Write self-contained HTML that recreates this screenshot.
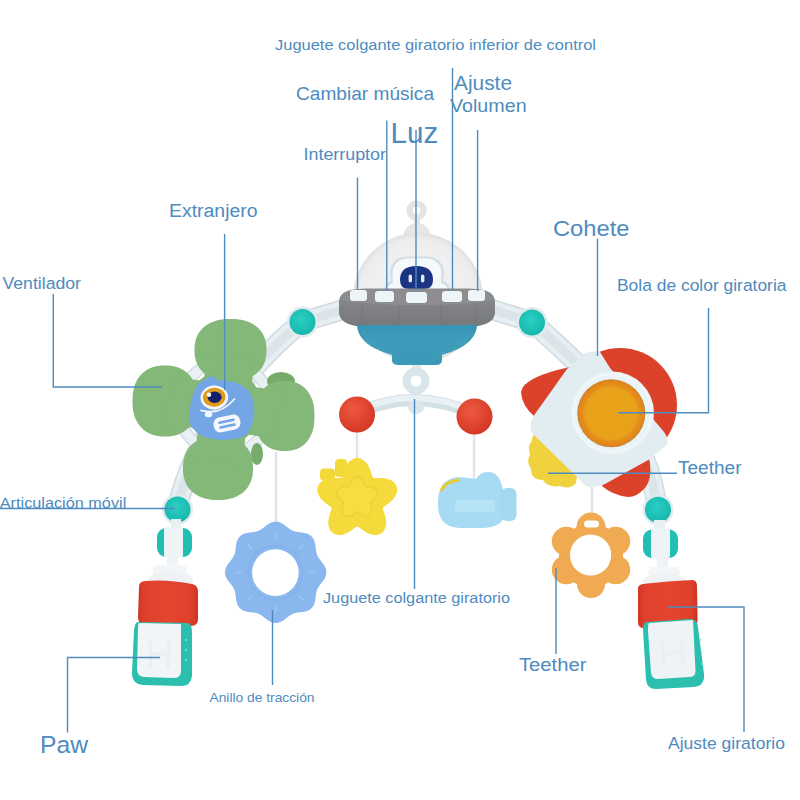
<!DOCTYPE html>
<html><head><meta charset="utf-8">
<style>
html,body{margin:0;padding:0;background:#fff;}
body{width:800px;height:800px;overflow:hidden;}
svg{display:block;}
text{font-family:"Liberation Sans",sans-serif;fill:#4e8bbe;}
</style></head><body>
<svg width="800" height="800" viewBox="0 0 800 800">
<defs>
<radialGradient id="redg" cx="40%" cy="35%" r="70%"><stop offset="0" stop-color="#ee5940"/><stop offset="1" stop-color="#d23524"/></radialGradient>
<radialGradient id="orag" cx="50%" cy="50%" r="50%"><stop offset="0" stop-color="#e9a31a"/><stop offset="0.75" stop-color="#e8a21a"/><stop offset="0.84" stop-color="#e58d1c"/><stop offset="0.95" stop-color="#e2871b"/><stop offset="1" stop-color="#b98232"/></radialGradient>
<radialGradient id="domeg" cx="50%" cy="50%" r="50%"><stop offset="0" stop-color="#ececec"/><stop offset="0.7" stop-color="#f0f0f0"/><stop offset="0.92" stop-color="#ececec"/><stop offset="1" stop-color="#e0e0e0"/></radialGradient>
<linearGradient id="bowlg" x1="0" y1="0" x2="0" y2="1"><stop offset="0" stop-color="#3794b5"/><stop offset="0.5" stop-color="#3f9cba"/><stop offset="1" stop-color="#3b97b5"/></linearGradient>
<linearGradient id="rimg" x1="0" y1="0" x2="0" y2="1"><stop offset="0" stop-color="#8c8d90"/><stop offset="0.5" stop-color="#808184"/><stop offset="1" stop-color="#77787b"/></linearGradient>
<radialGradient id="tealg" cx="45%" cy="40%" r="60%"><stop offset="0" stop-color="#2ccfc3"/><stop offset="1" stop-color="#17b7ac"/></radialGradient>
<linearGradient id="bandg" x1="0" y1="0" x2="1" y2="0"><stop offset="0" stop-color="#cf3524"/><stop offset="0.12" stop-color="#e0412d"/><stop offset="0.5" stop-color="#e5452f"/><stop offset="0.88" stop-color="#df402c"/><stop offset="1" stop-color="#cc3323"/></linearGradient>
</defs>

<!-- arch tubes -->
<g fill="none" stroke-linecap="round">
<path d="M177,509 C195,430 255,360 302,322" stroke="#cfdbe0" stroke-width="21"/><path d="M177,509 C195,430 255,360 302,322" stroke="#e7eff2" stroke-width="18"/><path d="M177,509 C195,430 255,360 302,322" stroke="#dbe5e9" stroke-width="9"/>
<path d="M302,322 L345,309" stroke="#cfdbe0" stroke-width="21"/><path d="M302,322 L345,309" stroke="#e7eff2" stroke-width="18"/><path d="M302,322 L345,309" stroke="#dbe5e9" stroke-width="9"/>
<path d="M490,309 L532,322" stroke="#cfdbe0" stroke-width="21"/><path d="M490,309 L532,322" stroke="#e7eff2" stroke-width="18"/><path d="M490,309 L532,322" stroke="#dbe5e9" stroke-width="9"/>
<path d="M532,322 C565,352 650,420 657,510" stroke="#cfdbe0" stroke-width="21"/><path d="M532,322 C565,352 650,420 657,510" stroke="#e7eff2" stroke-width="18"/><path d="M532,322 C565,352 650,420 657,510" stroke="#dbe5e9" stroke-width="9"/>
</g>

<!-- UFO dome -->
<g>
<circle cx="416.6" cy="210.5" r="7" fill="none" stroke="#e4e4e4" stroke-width="6.5"/>
<rect x="413.5" y="216" width="6.5" height="12" fill="#e4e4e4"/>
<path d="M403,238 Q404,224 417,223 Q430,224 431,238Z" fill="#e6e6e6"/>
<circle cx="418" cy="298" r="65" fill="url(#domeg)"/>
<!-- robot -->
<path d="M384,293 Q384,283 391,281 L390,273 Q391,257 408,256.5 L426,256.5 Q443,257 444,273 L443,281 Q450,283 450,293Z" fill="#d3dde4"/>
<path d="M386,293 Q386,285 393,283 L392.5,273 Q393,259 409,258.5 L425,258.5 Q441,259 441.5,273 L441,283 Q448,285 448,293Z" fill="#f6f9fb"/>
<path d="M400,280 Q400,266 416.5,266 Q433,266 433,280 Q433,289 424,289 L409,289 Q400,289 400,280Z" fill="#1b3583"/>
<rect x="408.6" y="274.4" width="3.4" height="8" rx="1.7" fill="#e3ebf5"/>
<rect x="421" y="274.4" width="3.4" height="8" rx="1.7" fill="#e3ebf5"/>
</g>
<!-- UFO rim -->
<path d="M339,302 Q339,289 362,289 L472,289 Q495,289 495,302 L495,313 Q494,326 468,327 L366,327 Q340,326 339,313Z" fill="url(#rimg)"/>
<path d="M341,300 Q345,289 366,288.5 L468,288.5 Q489,289 493,300 Q470,305 417,305 Q364,305 341,300Z" fill="#8d8d90"/>
<g stroke="#737477" stroke-width="1" opacity="0.6">
<line x1="362" y1="304" x2="362" y2="326"/><line x1="399" y1="305" x2="399" y2="327"/><line x1="441" y1="305" x2="441" y2="327"/><line x1="476" y1="304" x2="476" y2="325"/>
</g>
<g fill="#eef5f9">
<rect x="350" y="290" width="17" height="11" rx="3"/>
<rect x="375" y="291" width="19" height="11" rx="3"/>
<rect x="406" y="292" width="21" height="11" rx="3"/>
<rect x="442" y="291" width="20" height="11" rx="3"/>
<rect x="468" y="290" width="17" height="11" rx="3"/>
</g>
<!-- bowl -->
<path d="M357,325 A60,33 0 0,0 477,325Z" fill="url(#bowlg)"/>
<path d="M364,330 A53,26 0 0,0 470,330" fill="none" stroke="#4aa6c2" stroke-width="1" opacity="0.7"/>
<path d="M392,354 L442,354 L442,361 Q441,365 436,365 L398,365 Q393,365 392,361Z" fill="#3c99b8"/>
<rect x="412" y="365" width="9" height="6" rx="2" fill="#dbe7eb"/>

<!-- teal joints top -->
<circle cx="302.5" cy="322" r="15.5" fill="#e1eaee"/>
<circle cx="302.5" cy="322" r="13" fill="url(#tealg)"/>
<circle cx="532" cy="322.5" r="15.5" fill="#e1eaee"/>
<circle cx="532" cy="322.5" r="13" fill="url(#tealg)"/>

<!-- mobile hanger -->
<circle cx="416" cy="381" r="9.5" fill="none" stroke="#d9e5ea" stroke-width="8"/>
<path d="M357,413 Q416,386 475,415" fill="none" stroke="#d3e0e6" stroke-width="12"/>
<path d="M357,411 Q416,384 475,413" fill="none" stroke="#e9f1f4" stroke-width="6"/>
<ellipse cx="416" cy="407" rx="8" ry="7" fill="#dce7ec"/>
<g stroke="#dde6ea" stroke-width="2.5">
<line x1="357" y1="430" x2="357" y2="462"/>
<line x1="474" y1="432" x2="474" y2="482"/>
<line x1="276" y1="452" x2="276" y2="524"/>
<line x1="592" y1="484" x2="592" y2="522"/>
</g>
<circle cx="357" cy="414.5" r="18" fill="url(#redg)"/>
<circle cx="474.5" cy="416.5" r="18" fill="url(#redg)"/>

<!-- star -->
<rect x="335" y="459" width="12" height="18" rx="4" fill="#f2d838"/>
<rect x="320" y="468.5" width="15" height="12" rx="4" fill="#f2d838"/>
<path d="M392.9,499.5 L392.2,500.2 L391.5,500.9 L390.7,501.6 L390.0,502.2 L389.2,502.9 L388.4,503.4 L387.7,504.0 L386.9,504.5 L386.2,505.0 L385.5,505.5 L384.9,506.0 L384.3,506.4 L383.7,506.9 L383.3,507.4 L382.9,507.8 L382.9,508.4 L383.0,509.1 L383.2,509.8 L383.4,510.5 L383.7,511.3 L383.9,512.1 L384.2,512.9 L384.5,513.8 L384.8,514.6 L385.1,515.6 L385.3,516.5 L385.6,517.5 L385.8,518.4 L385.9,519.4 L386.1,520.4 L386.2,521.4 L386.2,522.4 L386.2,523.4 L386.1,524.4 L386.0,525.4 L385.8,526.3 L385.6,527.2 L385.3,528.1 L384.9,529.0 L384.5,529.8 L384.1,530.6 L383.5,531.3 L383.0,531.9 L382.3,532.5 L381.6,533.1 L380.9,533.6 L380.1,534.0 L379.3,534.3 L378.5,534.6 L377.6,534.8 L376.7,534.9 L375.8,535.0 L374.9,535.0 L373.9,535.0 L373.0,534.8 L372.0,534.7 L371.1,534.4 L370.1,534.1 L369.2,533.8 L368.3,533.4 L367.3,532.9 L366.5,532.5 L365.6,532.0 L364.7,531.5 L363.9,530.9 L363.1,530.4 L362.4,529.8 L361.6,529.3 L360.9,528.8 L360.3,528.3 L359.6,527.8 L359.0,527.3 L358.4,527.0 L357.8,526.7 L357.2,526.5 L356.7,526.7 L356.1,527.0 L355.5,527.3 L354.9,527.8 L354.2,528.3 L353.6,528.8 L352.9,529.3 L352.1,529.8 L351.4,530.4 L350.6,530.9 L349.8,531.5 L348.9,532.0 L348.0,532.5 L347.2,532.9 L346.2,533.4 L345.3,533.8 L344.4,534.1 L343.4,534.4 L342.5,534.7 L341.5,534.8 L340.6,535.0 L339.6,535.0 L338.7,535.0 L337.8,534.9 L336.9,534.8 L336.0,534.6 L335.2,534.3 L334.4,534.0 L333.6,533.6 L332.9,533.1 L332.2,532.5 L331.5,531.9 L331.0,531.3 L330.4,530.6 L330.0,529.8 L329.6,529.0 L329.2,528.1 L328.9,527.2 L328.7,526.3 L328.5,525.4 L328.4,524.4 L328.3,523.4 L328.3,522.4 L328.3,521.4 L328.4,520.4 L328.6,519.4 L328.7,518.4 L328.9,517.5 L329.2,516.5 L329.4,515.6 L329.7,514.6 L330.0,513.8 L330.3,512.9 L330.6,512.1 L330.8,511.3 L331.1,510.5 L331.3,509.8 L331.5,509.1 L331.6,508.4 L331.6,507.8 L331.2,507.4 L330.8,506.9 L330.2,506.4 L329.6,506.0 L329.0,505.5 L328.3,505.0 L327.6,504.5 L326.8,504.0 L326.1,503.4 L325.3,502.9 L324.5,502.2 L323.8,501.6 L323.0,500.9 L322.3,500.2 L321.6,499.5 L321.0,498.7 L320.3,498.0 L319.8,497.1 L319.2,496.3 L318.8,495.5 L318.4,494.6 L318.0,493.7 L317.7,492.8 L317.5,491.9 L317.4,491.0 L317.3,490.1 L317.3,489.2 L317.4,488.4 L317.5,487.5 L317.8,486.7 L318.1,485.9 L318.5,485.1 L318.9,484.3 L319.4,483.6 L320.0,482.9 L320.7,482.3 L321.4,481.7 L322.1,481.1 L322.9,480.6 L323.7,480.2 L324.6,479.7 L325.5,479.4 L326.5,479.1 L327.5,478.8 L328.4,478.6 L329.4,478.4 L330.4,478.2 L331.4,478.1 L332.4,478.0 L333.4,478.0 L334.3,478.0 L335.3,478.0 L336.2,478.0 L337.1,478.0 L337.9,478.0 L338.7,478.0 L339.5,478.0 L340.2,478.0 L340.8,477.9 L341.4,477.7 L341.7,477.2 L342.0,476.6 L342.3,475.9 L342.6,475.2 L342.8,474.5 L343.0,473.7 L343.3,472.8 L343.6,471.9 L343.9,471.1 L344.2,470.2 L344.5,469.2 L344.9,468.3 L345.3,467.4 L345.8,466.5 L346.2,465.6 L346.8,464.8 L347.3,463.9 L347.9,463.1 L348.5,462.4 L349.2,461.7 L349.9,461.0 L350.6,460.4 L351.4,459.9 L352.2,459.4 L353.0,459.0 L353.8,458.6 L354.7,458.3 L355.5,458.2 L356.4,458.0 L357.2,458.0 L358.1,458.0 L359.0,458.2 L359.8,458.3 L360.7,458.6 L361.5,459.0 L362.3,459.4 L363.1,459.9 L363.9,460.4 L364.6,461.0 L365.3,461.7 L366.0,462.4 L366.6,463.1 L367.2,463.9 L367.7,464.8 L368.3,465.6 L368.7,466.5 L369.2,467.4 L369.6,468.3 L370.0,469.2 L370.3,470.2 L370.6,471.1 L370.9,471.9 L371.2,472.8 L371.5,473.7 L371.7,474.5 L371.9,475.2 L372.2,475.9 L372.5,476.6 L372.8,477.2 L373.1,477.7 L373.7,477.9 L374.3,478.0 L375.0,478.0 L375.8,478.0 L376.6,478.0 L377.4,478.0 L378.3,478.0 L379.2,478.0 L380.2,478.0 L381.1,478.0 L382.1,478.0 L383.1,478.1 L384.1,478.2 L385.1,478.4 L386.1,478.6 L387.0,478.8 L388.0,479.1 L389.0,479.4 L389.9,479.7 L390.8,480.2 L391.6,480.6 L392.4,481.1 L393.1,481.7 L393.8,482.3 L394.5,482.9 L395.1,483.6 L395.6,484.3 L396.0,485.1 L396.4,485.9 L396.7,486.7 L397.0,487.5 L397.1,488.4 L397.2,489.2 L397.2,490.1 L397.1,491.0 L397.0,491.9 L396.8,492.8 L396.5,493.7 L396.1,494.6 L395.7,495.5 L395.3,496.3 L394.7,497.1 L394.2,498.0 L393.5,498.7Z" fill="#f4db3b"/>
<path d="M375.2,498.0 L374.9,498.4 L374.6,498.7 L374.2,499.1 L373.9,499.4 L373.6,499.7 L373.2,500.0 L372.9,500.3 L372.5,500.6 L372.2,500.9 L371.9,501.2 L371.6,501.4 L371.4,501.7 L371.1,501.9 L370.9,502.2 L370.8,502.5 L370.7,502.8 L370.8,503.1 L370.8,503.5 L370.9,503.8 L370.9,504.2 L371.0,504.6 L371.1,505.0 L371.2,505.4 L371.3,505.9 L371.4,506.3 L371.5,506.8 L371.6,507.3 L371.7,507.7 L371.7,508.2 L371.8,508.7 L371.8,509.2 L371.8,509.7 L371.7,510.2 L371.7,510.7 L371.6,511.2 L371.5,511.6 L371.4,512.1 L371.2,512.5 L371.0,512.9 L370.8,513.3 L370.6,513.7 L370.3,514.1 L370.0,514.4 L369.7,514.7 L369.3,515.0 L369.0,515.2 L368.6,515.4 L368.2,515.6 L367.8,515.8 L367.3,515.9 L366.9,516.0 L366.4,516.0 L365.9,516.0 L365.5,516.0 L365.0,516.0 L364.5,515.9 L364.0,515.8 L363.6,515.7 L363.1,515.5 L362.6,515.3 L362.2,515.2 L361.7,514.9 L361.3,514.7 L360.9,514.5 L360.5,514.3 L360.1,514.0 L359.7,513.8 L359.3,513.6 L358.9,513.4 L358.6,513.2 L358.3,513.0 L357.9,512.8 L357.6,512.7 L357.3,512.6 L357.0,512.5 L356.7,512.6 L356.4,512.7 L356.1,512.8 L355.7,513.0 L355.4,513.2 L355.1,513.4 L354.7,513.6 L354.3,513.8 L353.9,514.0 L353.5,514.3 L353.1,514.5 L352.7,514.7 L352.3,514.9 L351.8,515.2 L351.4,515.3 L350.9,515.5 L350.4,515.7 L350.0,515.8 L349.5,515.9 L349.0,516.0 L348.5,516.0 L348.1,516.0 L347.6,516.0 L347.1,516.0 L346.7,515.9 L346.2,515.8 L345.8,515.6 L345.4,515.4 L345.0,515.2 L344.7,515.0 L344.3,514.7 L344.0,514.4 L343.7,514.1 L343.4,513.7 L343.2,513.3 L343.0,512.9 L342.8,512.5 L342.6,512.1 L342.5,511.6 L342.4,511.2 L342.3,510.7 L342.3,510.2 L342.2,509.7 L342.2,509.2 L342.2,508.7 L342.3,508.2 L342.3,507.7 L342.4,507.3 L342.5,506.8 L342.6,506.3 L342.7,505.9 L342.8,505.4 L342.9,505.0 L343.0,504.6 L343.1,504.2 L343.1,503.8 L343.2,503.5 L343.2,503.1 L343.3,502.8 L343.2,502.5 L343.1,502.2 L342.9,501.9 L342.6,501.7 L342.4,501.4 L342.1,501.2 L341.8,500.9 L341.5,500.6 L341.1,500.3 L340.8,500.0 L340.4,499.7 L340.1,499.4 L339.8,499.1 L339.4,498.7 L339.1,498.4 L338.8,498.0 L338.5,497.6 L338.2,497.2 L337.9,496.8 L337.7,496.4 L337.4,495.9 L337.3,495.5 L337.1,495.1 L337.0,494.6 L336.9,494.2 L336.8,493.7 L336.8,493.3 L336.8,492.8 L336.8,492.4 L336.9,491.9 L337.0,491.5 L337.2,491.1 L337.4,490.7 L337.6,490.3 L337.8,489.9 L338.1,489.6 L338.5,489.3 L338.8,489.0 L339.2,488.7 L339.6,488.4 L340.0,488.2 L340.4,487.9 L340.8,487.7 L341.3,487.6 L341.8,487.4 L342.2,487.3 L342.7,487.2 L343.2,487.1 L343.7,487.0 L344.2,486.9 L344.6,486.9 L345.1,486.8 L345.5,486.8 L346.0,486.7 L346.4,486.7 L346.8,486.7 L347.2,486.6 L347.5,486.6 L347.9,486.5 L348.2,486.4 L348.5,486.3 L348.7,486.0 L348.9,485.8 L349.1,485.5 L349.2,485.1 L349.4,484.8 L349.5,484.4 L349.7,484.0 L349.9,483.6 L350.0,483.2 L350.2,482.8 L350.4,482.4 L350.6,481.9 L350.9,481.5 L351.1,481.1 L351.4,480.7 L351.6,480.2 L351.9,479.9 L352.2,479.5 L352.6,479.1 L352.9,478.8 L353.3,478.4 L353.6,478.2 L354.0,477.9 L354.4,477.7 L354.8,477.5 L355.3,477.3 L355.7,477.2 L356.1,477.1 L356.6,477.0 L357.0,477.0 L357.4,477.0 L357.9,477.1 L358.3,477.2 L358.7,477.3 L359.2,477.5 L359.6,477.7 L360.0,477.9 L360.4,478.2 L360.7,478.4 L361.1,478.8 L361.4,479.1 L361.8,479.5 L362.1,479.9 L362.4,480.2 L362.6,480.7 L362.9,481.1 L363.1,481.5 L363.4,481.9 L363.6,482.4 L363.8,482.8 L364.0,483.2 L364.1,483.6 L364.3,484.0 L364.5,484.4 L364.6,484.8 L364.8,485.1 L364.9,485.5 L365.1,485.8 L365.3,486.0 L365.5,486.3 L365.8,486.4 L366.1,486.5 L366.5,486.6 L366.8,486.6 L367.2,486.7 L367.6,486.7 L368.0,486.7 L368.5,486.8 L368.9,486.8 L369.4,486.9 L369.8,486.9 L370.3,487.0 L370.8,487.1 L371.3,487.2 L371.8,487.3 L372.2,487.4 L372.7,487.6 L373.2,487.7 L373.6,487.9 L374.0,488.2 L374.4,488.4 L374.8,488.7 L375.2,489.0 L375.5,489.3 L375.9,489.6 L376.2,489.9 L376.4,490.3 L376.6,490.7 L376.8,491.1 L377.0,491.5 L377.1,491.9 L377.2,492.4 L377.2,492.8 L377.2,493.3 L377.2,493.7 L377.1,494.2 L377.0,494.6 L376.9,495.1 L376.7,495.5 L376.6,495.9 L376.3,496.4 L376.1,496.8 L375.8,497.2 L375.5,497.6Z" fill="#f5dd42" stroke="#ead233" stroke-width="1.5"/>

<!-- airplane -->
<path d="M438,502 Q438,478 460,477 L476,479 Q480,471 490,472 Q499,473 502,486 L504,492 L504,517 Q500,528 482,528 L460,528 Q438,527 438,505Z" fill="#a7dbf3"/>
<rect x="501" y="488" width="15.5" height="33" rx="6" fill="#a3d8f1"/>
<path d="M456,500 L494,500 Q497,506 494,512 L456,512 Q453,506 456,500Z" fill="#b6e4f7"/>
<path d="M441,491 Q446,481 459,480" fill="none" stroke="#eacb2a" stroke-width="3"/>

<!-- fan -->
<circle cx="225" cy="408" r="46" fill="none" stroke="#d2dde2" stroke-width="12"/>
<circle cx="225" cy="408" r="46" fill="none" stroke="#e9f0f3" stroke-width="9"/>
<ellipse cx="281" cy="381" rx="14" ry="9" fill="#76ab6a"/>
<ellipse cx="257" cy="454" rx="6" ry="11" fill="#76ab6a"/>
<g fill="#84b878">
<path d="M266.5,350.0 L266.5,351.5 L266.4,352.8 L266.4,354.0 L266.3,355.1 L266.1,356.2 L265.9,357.2 L265.7,358.2 L265.5,359.2 L265.3,360.2 L265.0,361.2 L264.6,362.1 L264.3,363.0 L263.9,363.9 L263.5,364.8 L263.1,365.6 L262.6,366.4 L262.1,367.2 L261.6,368.0 L261.0,368.8 L260.4,369.5 L259.8,370.3 L259.2,371.0 L258.5,371.6 L257.8,372.3 L257.1,372.9 L256.4,373.5 L255.6,374.1 L254.8,374.7 L254.0,375.3 L253.2,375.8 L252.3,376.3 L251.4,376.8 L250.5,377.2 L249.6,377.6 L248.6,378.0 L247.6,378.4 L246.6,378.8 L245.6,379.1 L244.5,379.4 L243.5,379.7 L242.4,379.9 L241.2,380.2 L240.1,380.3 L238.9,380.5 L237.7,380.7 L236.4,380.8 L235.1,380.9 L233.7,380.9 L232.3,381.0 L230.5,381.0 L228.7,381.0 L227.3,380.9 L225.9,380.9 L224.6,380.8 L223.3,380.7 L222.1,380.5 L220.9,380.3 L219.8,380.2 L218.6,379.9 L217.5,379.7 L216.5,379.4 L215.4,379.1 L214.4,378.8 L213.4,378.4 L212.4,378.0 L211.4,377.6 L210.5,377.2 L209.6,376.8 L208.7,376.3 L207.8,375.8 L207.0,375.3 L206.2,374.7 L205.4,374.1 L204.6,373.5 L203.9,372.9 L203.2,372.3 L202.5,371.6 L201.8,371.0 L201.2,370.3 L200.6,369.5 L200.0,368.8 L199.4,368.0 L198.9,367.2 L198.4,366.4 L197.9,365.6 L197.5,364.8 L197.1,363.9 L196.7,363.0 L196.4,362.1 L196.0,361.2 L195.7,360.2 L195.5,359.2 L195.3,358.2 L195.1,357.2 L194.9,356.2 L194.7,355.1 L194.6,354.0 L194.6,352.8 L194.5,351.5 L194.5,350.0 L194.5,348.5 L194.6,347.2 L194.6,346.0 L194.7,344.9 L194.9,343.8 L195.1,342.8 L195.3,341.8 L195.5,340.8 L195.7,339.8 L196.0,338.8 L196.4,337.9 L196.7,337.0 L197.1,336.1 L197.5,335.2 L197.9,334.4 L198.4,333.6 L198.9,332.8 L199.4,332.0 L200.0,331.2 L200.6,330.5 L201.2,329.7 L201.8,329.0 L202.5,328.4 L203.2,327.7 L203.9,327.1 L204.6,326.5 L205.4,325.9 L206.2,325.3 L207.0,324.7 L207.8,324.2 L208.7,323.7 L209.6,323.2 L210.5,322.8 L211.4,322.4 L212.4,322.0 L213.4,321.6 L214.4,321.2 L215.4,320.9 L216.5,320.6 L217.5,320.3 L218.6,320.1 L219.8,319.8 L220.9,319.7 L222.1,319.5 L223.3,319.3 L224.6,319.2 L225.9,319.1 L227.3,319.1 L228.7,319.0 L230.5,319.0 L232.3,319.0 L233.7,319.1 L235.1,319.1 L236.4,319.2 L237.7,319.3 L238.9,319.5 L240.1,319.7 L241.2,319.8 L242.4,320.1 L243.5,320.3 L244.5,320.6 L245.6,320.9 L246.6,321.2 L247.6,321.6 L248.6,322.0 L249.6,322.4 L250.5,322.8 L251.4,323.2 L252.3,323.7 L253.2,324.2 L254.0,324.7 L254.8,325.3 L255.6,325.9 L256.4,326.5 L257.1,327.1 L257.8,327.7 L258.5,328.4 L259.2,329.0 L259.8,329.7 L260.4,330.5 L261.0,331.2 L261.6,332.0 L262.1,332.8 L262.6,333.6 L263.1,334.4 L263.5,335.2 L263.9,336.1 L264.3,337.0 L264.6,337.9 L265.0,338.8 L265.3,339.8 L265.5,340.8 L265.7,341.8 L265.9,342.8 L266.1,343.8 L266.3,344.9 L266.4,346.0 L266.4,347.2 L266.5,348.5Z"/>
<path d="M197.5,401.0 L197.5,402.8 L197.4,404.2 L197.4,405.5 L197.3,406.8 L197.2,408.1 L197.0,409.3 L196.8,410.4 L196.6,411.6 L196.4,412.7 L196.1,413.8 L195.8,414.8 L195.5,415.9 L195.2,416.9 L194.8,417.9 L194.4,418.9 L194.0,419.8 L193.5,420.7 L193.1,421.6 L192.6,422.5 L192.0,423.4 L191.5,424.2 L190.9,425.0 L190.3,425.8 L189.7,426.5 L189.0,427.3 L188.4,428.0 L187.7,428.6 L187.0,429.3 L186.2,429.9 L185.5,430.5 L184.7,431.1 L183.9,431.6 L183.1,432.2 L182.2,432.6 L181.4,433.1 L180.5,433.5 L179.6,433.9 L178.6,434.3 L177.7,434.7 L176.7,435.0 L175.7,435.3 L174.7,435.5 L173.6,435.8 L172.6,436.0 L171.5,436.1 L170.3,436.3 L169.2,436.4 L167.9,436.4 L166.6,436.5 L165.0,436.5 L163.4,436.5 L162.1,436.4 L160.8,436.4 L159.7,436.3 L158.5,436.1 L157.4,436.0 L156.4,435.8 L155.3,435.5 L154.3,435.3 L153.3,435.0 L152.3,434.7 L151.4,434.3 L150.4,433.9 L149.5,433.5 L148.6,433.1 L147.8,432.6 L146.9,432.2 L146.1,431.6 L145.3,431.1 L144.5,430.5 L143.8,429.9 L143.0,429.3 L142.3,428.6 L141.6,428.0 L141.0,427.3 L140.3,426.5 L139.7,425.8 L139.1,425.0 L138.5,424.2 L138.0,423.4 L137.4,422.5 L136.9,421.6 L136.5,420.7 L136.0,419.8 L135.6,418.9 L135.2,417.9 L134.8,416.9 L134.5,415.9 L134.2,414.8 L133.9,413.8 L133.6,412.7 L133.4,411.6 L133.2,410.4 L133.0,409.3 L132.8,408.1 L132.7,406.8 L132.6,405.5 L132.6,404.2 L132.5,402.8 L132.5,401.0 L132.5,399.2 L132.6,397.8 L132.6,396.5 L132.7,395.2 L132.8,393.9 L133.0,392.7 L133.2,391.6 L133.4,390.4 L133.6,389.3 L133.9,388.2 L134.2,387.2 L134.5,386.1 L134.8,385.1 L135.2,384.1 L135.6,383.1 L136.0,382.2 L136.5,381.3 L136.9,380.4 L137.4,379.5 L138.0,378.6 L138.5,377.8 L139.1,377.0 L139.7,376.2 L140.3,375.5 L141.0,374.7 L141.6,374.0 L142.3,373.4 L143.0,372.7 L143.8,372.1 L144.5,371.5 L145.3,370.9 L146.1,370.4 L146.9,369.8 L147.8,369.4 L148.6,368.9 L149.5,368.5 L150.4,368.1 L151.4,367.7 L152.3,367.3 L153.3,367.0 L154.3,366.7 L155.3,366.5 L156.4,366.2 L157.4,366.0 L158.5,365.9 L159.7,365.7 L160.8,365.6 L162.1,365.6 L163.4,365.5 L165.0,365.5 L166.6,365.5 L167.9,365.6 L169.2,365.6 L170.3,365.7 L171.5,365.9 L172.6,366.0 L173.6,366.2 L174.7,366.5 L175.7,366.7 L176.7,367.0 L177.7,367.3 L178.6,367.7 L179.6,368.1 L180.5,368.5 L181.4,368.9 L182.2,369.4 L183.1,369.8 L183.9,370.4 L184.7,370.9 L185.5,371.5 L186.2,372.1 L187.0,372.7 L187.7,373.4 L188.4,374.0 L189.0,374.7 L189.7,375.5 L190.3,376.2 L190.9,377.0 L191.5,377.8 L192.0,378.6 L192.6,379.5 L193.1,380.4 L193.5,381.3 L194.0,382.2 L194.4,383.1 L194.8,384.1 L195.2,385.1 L195.5,386.1 L195.8,387.2 L196.1,388.2 L196.4,389.3 L196.6,390.4 L196.8,391.6 L197.0,392.7 L197.2,393.9 L197.3,395.2 L197.4,396.5 L197.4,397.8 L197.5,399.2Z"/>
<path d="M314.5,416.0 L314.5,417.7 L314.4,419.2 L314.4,420.5 L314.3,421.8 L314.2,423.0 L314.0,424.2 L313.9,425.3 L313.7,426.4 L313.5,427.5 L313.2,428.6 L313.0,429.7 L312.7,430.7 L312.3,431.7 L312.0,432.7 L311.6,433.6 L311.2,434.5 L310.8,435.5 L310.4,436.3 L309.9,437.2 L309.5,438.0 L308.9,438.9 L308.4,439.7 L307.9,440.4 L307.3,441.2 L306.7,441.9 L306.1,442.6 L305.4,443.3 L304.8,443.9 L304.1,444.5 L303.4,445.1 L302.7,445.7 L301.9,446.2 L301.2,446.7 L300.4,447.2 L299.6,447.7 L298.8,448.1 L297.9,448.5 L297.1,448.9 L296.2,449.2 L295.3,449.5 L294.4,449.8 L293.4,450.0 L292.5,450.3 L291.5,450.5 L290.5,450.6 L289.4,450.8 L288.3,450.9 L287.2,450.9 L286.0,451.0 L284.5,451.0 L283.0,451.0 L281.8,450.9 L280.7,450.9 L279.6,450.8 L278.5,450.6 L277.5,450.5 L276.5,450.3 L275.6,450.0 L274.6,449.8 L273.7,449.5 L272.8,449.2 L271.9,448.9 L271.1,448.5 L270.2,448.1 L269.4,447.7 L268.6,447.2 L267.8,446.7 L267.1,446.2 L266.3,445.7 L265.6,445.1 L264.9,444.5 L264.2,443.9 L263.6,443.3 L262.9,442.6 L262.3,441.9 L261.7,441.2 L261.1,440.4 L260.6,439.7 L260.1,438.9 L259.5,438.0 L259.1,437.2 L258.6,436.3 L258.2,435.5 L257.8,434.5 L257.4,433.6 L257.0,432.7 L256.7,431.7 L256.3,430.7 L256.0,429.7 L255.8,428.6 L255.5,427.5 L255.3,426.4 L255.1,425.3 L255.0,424.2 L254.8,423.0 L254.7,421.8 L254.6,420.5 L254.6,419.2 L254.5,417.7 L254.5,416.0 L254.5,414.3 L254.6,412.8 L254.6,411.5 L254.7,410.2 L254.8,409.0 L255.0,407.8 L255.1,406.7 L255.3,405.6 L255.5,404.5 L255.8,403.4 L256.0,402.3 L256.3,401.3 L256.7,400.3 L257.0,399.3 L257.4,398.4 L257.8,397.5 L258.2,396.5 L258.6,395.7 L259.1,394.8 L259.5,394.0 L260.1,393.1 L260.6,392.3 L261.1,391.6 L261.7,390.8 L262.3,390.1 L262.9,389.4 L263.6,388.7 L264.2,388.1 L264.9,387.5 L265.6,386.9 L266.3,386.3 L267.1,385.8 L267.8,385.3 L268.6,384.8 L269.4,384.3 L270.2,383.9 L271.1,383.5 L271.9,383.1 L272.8,382.8 L273.7,382.5 L274.6,382.2 L275.6,382.0 L276.5,381.7 L277.5,381.5 L278.5,381.4 L279.6,381.2 L280.7,381.1 L281.8,381.1 L283.0,381.0 L284.5,381.0 L286.0,381.0 L287.2,381.1 L288.3,381.1 L289.4,381.2 L290.5,381.4 L291.5,381.5 L292.5,381.7 L293.4,382.0 L294.4,382.2 L295.3,382.5 L296.2,382.8 L297.1,383.1 L297.9,383.5 L298.8,383.9 L299.6,384.3 L300.4,384.8 L301.2,385.3 L301.9,385.8 L302.7,386.3 L303.4,386.9 L304.1,387.5 L304.8,388.1 L305.4,388.7 L306.1,389.4 L306.7,390.1 L307.3,390.8 L307.9,391.6 L308.4,392.3 L308.9,393.1 L309.5,394.0 L309.9,394.8 L310.4,395.7 L310.8,396.5 L311.2,397.5 L311.6,398.4 L312.0,399.3 L312.3,400.3 L312.7,401.3 L313.0,402.3 L313.2,403.4 L313.5,404.5 L313.7,405.6 L313.9,406.7 L314.0,407.8 L314.2,409.0 L314.3,410.2 L314.4,411.5 L314.4,412.8 L314.5,414.3Z"/>
<path d="M253.0,468.0 L253.0,469.6 L252.9,470.9 L252.9,472.1 L252.8,473.3 L252.6,474.4 L252.5,475.5 L252.3,476.5 L252.0,477.5 L251.8,478.5 L251.5,479.5 L251.2,480.5 L250.9,481.4 L250.5,482.3 L250.1,483.2 L249.7,484.1 L249.2,485.0 L248.7,485.8 L248.2,486.6 L247.7,487.4 L247.1,488.2 L246.5,488.9 L245.9,489.6 L245.3,490.3 L244.6,491.0 L243.9,491.7 L243.2,492.3 L242.4,492.9 L241.7,493.5 L240.9,494.1 L240.0,494.6 L239.2,495.1 L238.3,495.6 L237.5,496.1 L236.5,496.5 L235.6,496.9 L234.7,497.3 L233.7,497.7 L232.7,498.0 L231.7,498.3 L230.6,498.6 L229.5,498.9 L228.4,499.1 L227.3,499.3 L226.2,499.5 L225.0,499.7 L223.8,499.8 L222.5,499.9 L221.2,499.9 L219.7,500.0 L218.0,500.0 L216.3,500.0 L214.8,499.9 L213.5,499.9 L212.2,499.8 L211.0,499.7 L209.8,499.5 L208.7,499.3 L207.6,499.1 L206.5,498.9 L205.4,498.6 L204.3,498.3 L203.3,498.0 L202.3,497.7 L201.3,497.3 L200.4,496.9 L199.5,496.5 L198.5,496.1 L197.7,495.6 L196.8,495.1 L196.0,494.6 L195.1,494.1 L194.3,493.5 L193.6,492.9 L192.8,492.3 L192.1,491.7 L191.4,491.0 L190.7,490.3 L190.1,489.6 L189.5,488.9 L188.9,488.2 L188.3,487.4 L187.8,486.6 L187.3,485.8 L186.8,485.0 L186.3,484.1 L185.9,483.2 L185.5,482.3 L185.1,481.4 L184.8,480.5 L184.5,479.5 L184.2,478.5 L184.0,477.5 L183.7,476.5 L183.5,475.5 L183.4,474.4 L183.2,473.3 L183.1,472.1 L183.1,470.9 L183.0,469.6 L183.0,468.0 L183.0,466.4 L183.1,465.1 L183.1,463.9 L183.2,462.7 L183.4,461.6 L183.5,460.5 L183.7,459.5 L184.0,458.5 L184.2,457.5 L184.5,456.5 L184.8,455.5 L185.1,454.6 L185.5,453.7 L185.9,452.8 L186.3,451.9 L186.8,451.0 L187.3,450.2 L187.8,449.4 L188.3,448.6 L188.9,447.8 L189.5,447.1 L190.1,446.4 L190.7,445.7 L191.4,445.0 L192.1,444.3 L192.8,443.7 L193.6,443.1 L194.3,442.5 L195.1,441.9 L196.0,441.4 L196.8,440.9 L197.7,440.4 L198.5,439.9 L199.5,439.5 L200.4,439.1 L201.3,438.7 L202.3,438.3 L203.3,438.0 L204.3,437.7 L205.4,437.4 L206.5,437.1 L207.6,436.9 L208.7,436.7 L209.8,436.5 L211.0,436.3 L212.2,436.2 L213.5,436.1 L214.8,436.1 L216.3,436.0 L218.0,436.0 L219.7,436.0 L221.2,436.1 L222.5,436.1 L223.8,436.2 L225.0,436.3 L226.2,436.5 L227.3,436.7 L228.4,436.9 L229.5,437.1 L230.6,437.4 L231.7,437.7 L232.7,438.0 L233.7,438.3 L234.7,438.7 L235.6,439.1 L236.5,439.5 L237.5,439.9 L238.3,440.4 L239.2,440.9 L240.0,441.4 L240.9,441.9 L241.7,442.5 L242.4,443.1 L243.2,443.7 L243.9,444.3 L244.6,445.0 L245.3,445.7 L245.9,446.4 L246.5,447.1 L247.1,447.8 L247.7,448.6 L248.2,449.4 L248.7,450.2 L249.2,451.0 L249.7,451.9 L250.1,452.8 L250.5,453.7 L250.9,454.6 L251.2,455.5 L251.5,456.5 L251.8,457.5 L252.0,458.5 L252.3,459.5 L252.5,460.5 L252.6,461.6 L252.8,462.7 L252.9,463.9 L252.9,465.1 L253.0,466.4Z"/>
<circle cx="225" cy="407" r="37"/>
</g>
<g stroke="#84b878" stroke-width="48">
<line x1="225" y1="407" x2="231" y2="355"/>
<line x1="225" y1="407" x2="168" y2="401"/>
<line x1="225" y1="407" x2="279" y2="415"/>
<line x1="225" y1="407" x2="218" y2="463"/>
</g>
<!-- alien -->
<path d="M211,375.5 Q214,377 217,380 Q234,380 243,386 Q251,391 253,400 Q256,412 252.5,423 Q249,435 241,437.5 Q228,441 216,439.5 Q204,438 199,434 Q190,428 189.5,420 Q189,404 194,392 Q197,384 202,381 Q207,379 211,375.5Z" fill="#74a5e5"/>
<ellipse cx="214.3" cy="397.5" rx="13.8" ry="12" fill="#f6f8fb" transform="rotate(-5 214.3 397.5)"/>
<ellipse cx="214.2" cy="397.2" rx="11.3" ry="9.5" fill="#e09a1c" transform="rotate(-5 214.3 397.5)"/>
<ellipse cx="214.6" cy="397.2" rx="7" ry="5.7" fill="#13206a"/>
<circle cx="208.9" cy="394.8" r="2.3" fill="#f6f8fb"/>
<path d="M201,410.3 Q220,416 234.5,399" fill="none" stroke="#f4f7fb" stroke-width="1.8" stroke-linecap="round"/>
<ellipse cx="208.5" cy="414.5" rx="3.8" ry="2.8" fill="#f4f7fb"/>
<g transform="rotate(-12 227 423.5)">
<rect x="213.5" y="416" width="27" height="15" rx="6.5" fill="#f4f7fb"/>
<rect x="218.5" y="420" width="17" height="2.5" rx="1.2" fill="#74a5e5"/>
<rect x="218.5" y="424.8" width="17" height="2.5" rx="1.2" fill="#74a5e5"/>
</g>

<!-- blue flower -->
<path d="M326.4,572.3 L326.3,573.6 L326.1,574.9 L325.7,576.2 L325.2,577.5 L324.5,578.7 L323.8,579.9 L323.0,581.1 L322.2,582.2 L321.3,583.2 L320.5,584.3 L319.7,585.3 L318.9,586.3 L318.3,587.4 L317.7,588.4 L317.2,589.5 L316.8,590.6 L316.5,591.7 L316.2,592.9 L316.0,594.2 L315.8,595.5 L315.7,596.8 L315.5,598.2 L315.3,599.5 L315.1,600.9 L314.8,602.3 L314.4,603.6 L313.8,604.9 L313.2,606.1 L312.4,607.2 L311.6,608.2 L310.6,609.0 L309.5,609.8 L308.3,610.4 L307.0,611.0 L305.7,611.4 L304.3,611.7 L302.9,611.9 L301.6,612.1 L300.2,612.3 L298.9,612.4 L297.6,612.6 L296.3,612.8 L295.1,613.1 L294.0,613.4 L292.9,613.8 L291.8,614.3 L290.8,614.9 L289.7,615.5 L288.7,616.3 L287.7,617.1 L286.6,617.9 L285.6,618.8 L284.5,619.6 L283.3,620.4 L282.1,621.1 L280.9,621.8 L279.6,622.3 L278.3,622.7 L277.0,622.9 L275.7,623.0 L274.4,622.9 L273.1,622.7 L271.8,622.3 L270.5,621.8 L269.3,621.1 L268.1,620.4 L266.9,619.6 L265.8,618.8 L264.8,617.9 L263.7,617.1 L262.7,616.3 L261.7,615.5 L260.6,614.9 L259.6,614.3 L258.5,613.8 L257.4,613.4 L256.3,613.1 L255.1,612.8 L253.8,612.6 L252.5,612.4 L251.2,612.3 L249.8,612.1 L248.5,611.9 L247.1,611.7 L245.7,611.4 L244.4,611.0 L243.1,610.4 L241.9,609.8 L240.8,609.0 L239.8,608.2 L239.0,607.2 L238.2,606.1 L237.6,604.9 L237.0,603.6 L236.6,602.3 L236.3,600.9 L236.1,599.5 L235.9,598.2 L235.7,596.8 L235.6,595.5 L235.4,594.2 L235.2,592.9 L234.9,591.7 L234.6,590.6 L234.2,589.5 L233.7,588.4 L233.1,587.4 L232.5,586.3 L231.7,585.3 L230.9,584.3 L230.1,583.2 L229.2,582.2 L228.4,581.1 L227.6,579.9 L226.9,578.7 L226.2,577.5 L225.7,576.2 L225.3,574.9 L225.1,573.6 L225.0,572.3 L225.1,571.0 L225.3,569.7 L225.7,568.4 L226.2,567.1 L226.9,565.9 L227.6,564.7 L228.4,563.5 L229.2,562.4 L230.1,561.4 L230.9,560.3 L231.7,559.3 L232.5,558.3 L233.1,557.2 L233.7,556.2 L234.2,555.1 L234.6,554.0 L234.9,552.9 L235.2,551.7 L235.4,550.4 L235.6,549.1 L235.7,547.8 L235.9,546.4 L236.1,545.1 L236.3,543.7 L236.6,542.3 L237.0,541.0 L237.6,539.7 L238.2,538.5 L239.0,537.4 L239.8,536.4 L240.8,535.6 L241.9,534.8 L243.1,534.2 L244.4,533.6 L245.7,533.2 L247.1,532.9 L248.5,532.7 L249.8,532.5 L251.2,532.3 L252.5,532.2 L253.8,532.0 L255.1,531.8 L256.3,531.5 L257.4,531.2 L258.5,530.8 L259.6,530.3 L260.6,529.7 L261.7,529.1 L262.7,528.3 L263.7,527.5 L264.8,526.7 L265.8,525.8 L266.9,525.0 L268.1,524.2 L269.3,523.5 L270.5,522.8 L271.8,522.3 L273.1,521.9 L274.4,521.7 L275.7,521.6 L277.0,521.7 L278.3,521.9 L279.6,522.3 L280.9,522.8 L282.1,523.5 L283.3,524.2 L284.5,525.0 L285.6,525.8 L286.6,526.7 L287.7,527.5 L288.7,528.3 L289.7,529.1 L290.8,529.7 L291.8,530.3 L292.9,530.8 L294.0,531.2 L295.1,531.5 L296.3,531.8 L297.6,532.0 L298.9,532.2 L300.2,532.3 L301.6,532.5 L302.9,532.7 L304.3,532.9 L305.7,533.2 L307.0,533.6 L308.3,534.2 L309.5,534.8 L310.6,535.6 L311.6,536.4 L312.4,537.4 L313.2,538.5 L313.8,539.7 L314.4,541.0 L314.8,542.3 L315.1,543.7 L315.3,545.1 L315.5,546.4 L315.7,547.8 L315.8,549.1 L316.0,550.4 L316.2,551.7 L316.5,552.9 L316.8,554.0 L317.2,555.1 L317.7,556.2 L318.3,557.2 L318.9,558.3 L319.7,559.3 L320.5,560.3 L321.3,561.4 L322.2,562.4 L323.0,563.5 L323.8,564.7 L324.5,565.9 L325.2,567.1 L325.7,568.4 L326.1,569.7 L326.3,571.0Z" fill="#8ab7ee"/>
<circle cx="275.4" cy="572.6" r="27" fill="none" stroke="#82afe6" stroke-width="1.2"/>
<g stroke="#9cc4f2" stroke-width="2.2" stroke-linecap="round">
<line x1="275.5" y1="533" x2="275.5" y2="538"/><line x1="275.5" y1="607" x2="275.5" y2="612"/>
<line x1="236" y1="572.5" x2="241" y2="572.5"/><line x1="310" y1="572.5" x2="315" y2="572.5"/>
<line x1="248" y1="545" x2="251.5" y2="548.5"/><line x1="299.5" y1="596.5" x2="303" y2="600"/>
<line x1="303" y1="545" x2="299.5" y2="548.5"/><line x1="251.5" y1="596.5" x2="248" y2="600"/>
</g>
<circle cx="275.4" cy="572.6" r="23.3" fill="#ffffff"/>

<!-- rocket -->
<path d="M521,392 Q523,377 570,367 L585,385 L548,425 L534,416 Q522,406 521,392Z" fill="#dc4129"/>
<circle cx="620" cy="405" r="57" fill="#dc4129"/>
<path d="M602,486 L610,470 L640,450 L649,458 Q653,478 645,488 Q637,497 628,497 Q612,495 602,486Z" fill="#dc4129"/>
<path d="M546,431 Q532,430 532,441 Q527,446 530,454 Q526,462 531,469 Q531,480 543,480 Q548,488 560,486 Q570,490 576,483 L578,470Z" fill="#f0d13e"/>
<path d="M567,369 L584,354 Q591,350 600,352 L610,368 L664,432 Q670,440 666,446 L650,459 L605,484 Q595,489 586,486 L533,434 Q527,426 535,414Z" fill="#e2edf2"/>
<circle cx="612.5" cy="413" r="41.5" fill="#eaf3f6"/>
<circle cx="612.5" cy="413" r="39" fill="none" stroke="#f3f8fa" stroke-width="1.5"/>
<circle cx="611.3" cy="413.3" r="34" fill="url(#orag)"/>

<!-- orange flower -->
<g fill="#f0aa52">
<circle cx="591" cy="555.5" r="32"/>
<circle cx="591" cy="527" r="14.5"/>
<circle cx="591" cy="584" r="14"/>
<circle cx="566.3" cy="541.2" r="14.5"/>
<circle cx="615.7" cy="541.2" r="14.5"/>
<circle cx="566.3" cy="569.8" r="14.5"/>
<circle cx="615.7" cy="569.8" r="14.5"/>
</g>
<circle cx="590.6" cy="555" r="20.6" fill="#fff"/>
<rect x="584" y="520.5" width="15" height="7" rx="3.5" fill="#fff"/>

<!-- left leg -->
<g>
<circle cx="177.5" cy="509.4" r="15.5" fill="#e1eaee"/>
<circle cx="177.5" cy="509.4" r="13" fill="url(#tealg)"/>
<rect x="171" y="519" width="10" height="12" fill="#e9f0f2"/>
<rect x="157" y="528" width="35" height="29" rx="9" fill="#22beb1"/>
<rect x="164" y="527.5" width="19" height="30" rx="2" fill="#eef4f6"/>
<rect x="167" y="552" width="11" height="18" fill="#eef3f5"/>
<rect x="153" y="565" width="34" height="11" rx="5" fill="#f3f6f8"/>
<path d="M148,580 Q149,572 170,571 Q192,572 193,580 L193,592 L148,592Z" fill="#eef2f4"/>
<path d="M139,588 Q138,582 145,581 Q168,579 192,584 Q198,585 198,592 L198,619 Q198,626 191,626 Q166,625 144,624 Q138,624 138,617Z" fill="url(#bandg)"/>
<path d="M138,622 L188,623 Q192,624 192,632 L192,676 Q191,686 181,686 L143,685 Q132,684 132,673 L134,630 Q135,622 138,622Z" fill="#2cbfae"/>
<path d="M139,623 L181,624 L181,672 Q180,678 174,678 L144,677 Q137,676 137,669 L138,630 Q138,623 139,623Z" fill="#f1f5f7"/>
<path d="M150,640 L151,668 M169,640 L168,668 M151,654 L168,654" stroke="#e9eff2" stroke-width="3.5" fill="none"/>
<g fill="#8fe0d6"><circle cx="186" cy="640" r="1"/><circle cx="186" cy="650" r="1"/><circle cx="186" cy="660" r="1"/></g>
</g>
<!-- right leg -->
<g>
<circle cx="658" cy="509.7" r="15.5" fill="#e1eaee"/>
<circle cx="658" cy="509.7" r="13" fill="url(#tealg)"/>
<rect x="654" y="520" width="11" height="12" fill="#e9f0f2"/>
<rect x="643" y="529.5" width="35" height="28.5" rx="9" fill="#22beb1"/>
<rect x="651" y="529" width="19" height="29" rx="2" fill="#eef4f6"/>
<rect x="657" y="554" width="11" height="16" fill="#eef3f5"/>
<rect x="648" y="567" width="32" height="11" rx="5" fill="#f3f6f8"/>
<path d="M643,582 Q644,574 665,573.5 Q685,574 686,582 L686,594 L643,594Z" fill="#eef2f4"/>
<path d="M638,590 Q637,585 643,584 Q668,581 692,580 Q697,580 697,586 L697.6,620 Q697.5,626 691,626 Q668,627 644,628 Q638,628 638,622Z" fill="url(#bandg)"/>
<path d="M647,622 L690,619 Q697,619 698,627 L704,674 Q705,686 694,687 L656,689 Q647,689 646,680 L643,630 Q643,622 647,622Z" fill="#2cbfae"/>
<path d="M649,623 L693,620 L695.5,671 Q695.5,677 689,677 L658,679 Q652,679 651,673 L648,631 Q648,623 649,623Z" fill="#eef3f6"/>
<path d="M662,640 L664,668 M681,638 L683,666 M663,654 L682,652" stroke="#e9eff2" stroke-width="3.5" fill="none"/>
<g fill="#8fe0d6"><circle cx="700.5" cy="640" r="0.9"/><circle cx="701.5" cy="652" r="0.9"/><circle cx="702" cy="664" r="0.9"/></g>
</g>

<!-- label lines -->
<g fill="none" stroke="#4e8bbe" stroke-width="1.4">
<polyline points="357.5,177.5 357.5,289"/>
<polyline points="386.8,120.5 386.8,291"/>
<polyline points="416,130 416,291"/>
<polyline points="452.5,68 452.5,290"/>
<polyline points="477.6,130 477.6,291"/>
<polyline points="224.6,234 224.6,390"/>
<polyline points="53.3,294 53.3,387 162,387"/>
<polyline points="597.5,238.5 597.5,356"/>
<polyline points="708.5,308 708.5,412.8 618,412.8"/>
<polyline points="548,473.3 677,473.3"/>
<polyline points="0,508.5 175,508.5"/>
<polyline points="414.5,399 414.5,589"/>
<polyline points="556,568 556,654"/>
<polyline points="272.5,610 272.5,685"/>
<polyline points="67.5,732.5 67.5,657.5 160,657.5"/>
<polyline points="668,607 744,607 744,732"/>
</g>
<!-- labels -->
<text x="275" y="50.2" font-size="15.41" textLength="321.0" lengthAdjust="spacingAndGlyphs">Juguete colgante giratorio inferior de control</text>
<text x="296.0" y="99.7" font-size="19.04" textLength="138.0" lengthAdjust="spacingAndGlyphs">Cambiar música</text>
<text x="454.0" y="89.7" font-size="19.62" textLength="58.0" lengthAdjust="spacingAndGlyphs">Ajuste</text>
<text x="450.0" y="111.6" font-size="18.75" textLength="76.6" lengthAdjust="spacingAndGlyphs">Volumen</text>
<text x="390.5" y="142.7" font-size="30.09" textLength="47.8" lengthAdjust="spacingAndGlyphs">Luz</text>
<text x="303.5" y="160" font-size="16.35" textLength="82.5" lengthAdjust="spacingAndGlyphs">Interruptor</text>
<text x="169.0" y="217.2" font-size="19.19" textLength="88.6" lengthAdjust="spacingAndGlyphs">Extranjero</text>
<text x="553.0" y="235.65" font-size="22.89" textLength="76.4" lengthAdjust="spacingAndGlyphs">Cohete</text>
<text x="2.5" y="288.6" font-size="15.92" textLength="78.5" lengthAdjust="spacingAndGlyphs">Ventilador</text>
<text x="617.0" y="290.8" font-size="16.13" textLength="169.5" lengthAdjust="spacingAndGlyphs">Bola de color giratoria</text>
<text x="678.0" y="473.6" font-size="18.90" textLength="63.5" lengthAdjust="spacingAndGlyphs">Teether</text>
<text x="-0.25" y="507.85" font-size="15.26" textLength="126.5" lengthAdjust="spacingAndGlyphs">Articulación móvil</text>
<text x="323.0" y="603" font-size="15.26" textLength="187.0" lengthAdjust="spacingAndGlyphs">Juguete colgante giratorio</text>
<text x="519.0" y="670.8" font-size="18.75" textLength="67.5" lengthAdjust="spacingAndGlyphs">Teether</text>
<text x="209.5" y="701.5" font-size="13.37" textLength="105.0" lengthAdjust="spacingAndGlyphs">Anillo de tracción</text>
<text x="40.0" y="752.8" font-size="23.84" textLength="48.1" lengthAdjust="spacingAndGlyphs">Paw</text>
<text x="668" y="748.6" font-size="16.57" textLength="117.0" lengthAdjust="spacingAndGlyphs">Ajuste giratorio</text>
</svg>
</body></html>
